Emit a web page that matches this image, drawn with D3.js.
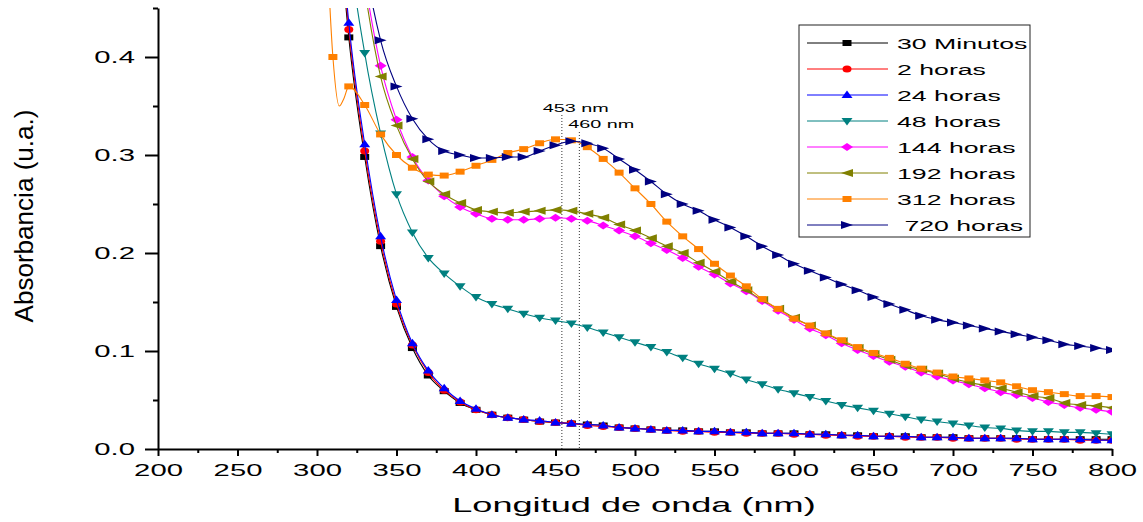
<!DOCTYPE html>
<html>
<head>
<meta charset="utf-8">
<script src="https://cdn.jsdelivr.net/npm/d3@7"></script>
<style>
  body { margin: 0; background: #fff; }
  text { font-family: "Liberation Sans", Arial, sans-serif; fill: #000; }
</style>
</head>
<body>
<script>
// wavelengths (nm) where the markers sit
const wavelengths = [310, 320, 330, 340, 350, 360, 370, 380, 390, 400,
  410, 420, 430, 440, 450, 460, 470, 480, 490, 500,
  510, 520, 530, 540, 550, 560, 570, 580, 590, 600,
  610, 620, 630, 640, 650, 660, 670, 680, 690, 700,
  710, 720, 730, 740, 750, 760, 770, 780, 790, 800];

const min30 = [0.62, 0.420, 0.298, 0.207, 0.145, 0.103, 0.075, 0.059, 0.047, 0.040,
  0.035, 0.032, 0.030, 0.028, 0.027, 0.026, 0.025, 0.024, 0.022, 0.021,
  0.020, 0.019, 0.019, 0.018, 0.018, 0.017, 0.017, 0.016, 0.016, 0.016,
  0.015, 0.015, 0.014, 0.014, 0.013, 0.013, 0.013, 0.012, 0.012, 0.012,
  0.011, 0.011, 0.011, 0.011, 0.010, 0.010, 0.010, 0.010, 0.010, 0.010];
const h2 = [0.63, 0.428, 0.304, 0.212, 0.148, 0.106, 0.078, 0.060, 0.048, 0.040,
  0.035, 0.032, 0.030, 0.028, 0.027, 0.026, 0.024, 0.023, 0.022, 0.021,
  0.020, 0.019, 0.018, 0.018, 0.017, 0.017, 0.016, 0.016, 0.016, 0.015,
  0.015, 0.014, 0.014, 0.013, 0.013, 0.013, 0.012, 0.012, 0.012, 0.011,
  0.011, 0.011, 0.011, 0.010, 0.010, 0.010, 0.010, 0.009, 0.009, 0.009];
const h24 = [0.64, 0.435, 0.311, 0.217, 0.152, 0.108, 0.080, 0.062, 0.049, 0.041,
  0.035, 0.032, 0.030, 0.029, 0.027, 0.026, 0.025, 0.024, 0.022, 0.021,
  0.020, 0.019, 0.019, 0.018, 0.018, 0.017, 0.017, 0.016, 0.016, 0.016,
  0.015, 0.015, 0.014, 0.014, 0.013, 0.013, 0.013, 0.012, 0.012, 0.012,
  0.011, 0.011, 0.011, 0.011, 0.010, 0.010, 0.010, 0.010, 0.009, 0.009];
const h48 = [0.75, 0.52, 0.404, 0.322, 0.260, 0.221, 0.195, 0.179, 0.166, 0.155,
  0.148, 0.143, 0.138, 0.134, 0.131, 0.128, 0.124, 0.119, 0.114, 0.109,
  0.104, 0.099, 0.093, 0.087, 0.082, 0.077, 0.071, 0.066, 0.061, 0.057,
  0.053, 0.049, 0.045, 0.042, 0.039, 0.036, 0.033, 0.030, 0.028, 0.026,
  0.024, 0.022, 0.021, 0.019, 0.018, 0.018, 0.017, 0.017, 0.016, 0.015];
const h144 = [0.75, 0.60, 0.48, 0.391, 0.336, 0.298, 0.274, 0.258, 0.247, 0.240,
  0.235, 0.234, 0.234, 0.235, 0.236, 0.235, 0.233, 0.228, 0.223, 0.217,
  0.210, 0.203, 0.195, 0.186, 0.178, 0.169, 0.161, 0.151, 0.141, 0.132,
  0.123, 0.116, 0.108, 0.101, 0.095, 0.089, 0.084, 0.078, 0.074, 0.070,
  0.066, 0.062, 0.058, 0.055, 0.052, 0.048, 0.045, 0.042, 0.040, 0.038];
const h192 = [0.75, 0.60, 0.47, 0.380, 0.330, 0.296, 0.273, 0.260, 0.251, 0.244,
  0.242, 0.241, 0.242, 0.243, 0.244, 0.243, 0.240, 0.236, 0.229, 0.223,
  0.215, 0.207, 0.200, 0.190, 0.181, 0.171, 0.162, 0.152, 0.143, 0.134,
  0.126, 0.118, 0.110, 0.103, 0.097, 0.091, 0.085, 0.081, 0.077, 0.072,
  0.068, 0.065, 0.062, 0.058, 0.054, 0.052, 0.047, 0.045, 0.044, 0.042];
const h312 = [0.400, 0.370, 0.351, 0.321, 0.300, 0.287, 0.280, 0.279, 0.283, 0.289,
  0.295, 0.302, 0.306, 0.312, 0.316, 0.315, 0.308, 0.296, 0.282, 0.266,
  0.250, 0.232, 0.217, 0.204, 0.189, 0.177, 0.166, 0.153, 0.143, 0.133,
  0.126, 0.118, 0.111, 0.104, 0.098, 0.093, 0.087, 0.082, 0.078, 0.074,
  0.072, 0.070, 0.068, 0.064, 0.060, 0.058, 0.056, 0.054, 0.054, 0.053];
// extra points of the 312 h line between the markers (the dip near 315 nm)
const h312Extra = [[305, 0.56], [314, 0.350], [317, 0.358]];
const h720 = [0.85, 0.65, 0.50, 0.417, 0.370, 0.337, 0.316, 0.304, 0.300, 0.297,
  0.297, 0.298, 0.298, 0.304, 0.310, 0.314, 0.312, 0.307, 0.296, 0.285,
  0.273, 0.260, 0.250, 0.243, 0.234, 0.226, 0.217, 0.207, 0.198, 0.189,
  0.182, 0.175, 0.168, 0.162, 0.155, 0.148, 0.142, 0.136, 0.132, 0.129,
  0.126, 0.123, 0.120, 0.117, 0.114, 0.111, 0.107, 0.105, 0.103, 0.101];

const labels = ['30 Minutos', '2 horas', '24 horas', '48 horas', '144 horas', '192 horas', '312 horas', ' 720 horas'];
const colors = ['#000000', '#ff0000', '#0000ff', '#008080', '#ff00ff', '#808000', '#ff8000', '#000080'];
const shapes = ['square', 'circle', 'up', 'down', 'diamond', 'left', 'square', 'right'];

const xTicks = [200, 250, 300, 350, 400, 450, 500, 550, 600, 650, 700, 750, 800];
const xMinor = [225, 275, 325, 375, 425, 475, 525, 575, 625, 675, 725, 775];
const yTicks = [0.0, 0.1, 0.2, 0.3, 0.4];
const yMinor = [0.05, 0.15, 0.25, 0.35, 0.45];
const peaks = [{ nm: 454, label: '453 nm' }, { nm: 465, label: '460 nm' }];

const width = 1143, height = 522;
const SX = 1.72; // the whole figure looks stretched sideways

const svg = d3.select('body').append('svg')
  .attr('width', width)
  .attr('height', height);

const x = d3.scaleLinear().domain([200, 800]).range([158, 1112]);
const y = d3.scaleLinear().domain([0, 0.45]).range([449, 8]);

svg.append('defs').append('clipPath').attr('id', 'plot')
  .append('rect')
  .attr('x', x(200)).attr('y', y(0.45))
  .attr('width', x(800) - x(200)).attr('height', y(0) - y(0.45));

function stretch(sel) {
  sel.each(function () {
    const w = this.getComputedTextLength();
    d3.select(this).attr('textLength', w * SX).attr('lengthAdjust', 'spacingAndGlyphs');
  });
}

const markerPath = {
  square: 'M-4.5,-3H4.5V3H-4.5Z',
  circle: 'M-4.5,0A4.5,3.5 0 1,0 4.5,0A4.5,3.5 0 1,0 -4.5,0Z',
  up: 'M0,-4.5L5.5,3L-5.5,3Z',
  down: 'M0,4.5L5.5,-3L-5.5,-3Z',
  diamond: 'M0,-4L6,0L0,4L-6,0Z',
  left: 'M-6,0L6,-4L6,4Z',
  right: 'M6,0L-6,-4L-6,4Z'
};

const seriesValues = [min30, h2, h24, h48, h144, h192, h312, h720];
const series = seriesValues.map((vals, i) => {
  const pts = wavelengths.map((w, j) => [w, vals[j]]);
  let linePts = pts;
  if (i === 6) linePts = pts.concat(h312Extra).sort((a, b) => a[0] - b[0]);
  return { label: labels[i], color: colors[i], shape: shapes[i], pts, linePts };
});

// annotation lines
const ann = svg.append('g');
ann.selectAll('line').data(peaks).join('line')
  .attr('x1', d => x(d.nm)).attr('x2', d => x(d.nm))
  .attr('y1', (d, i) => i === 0 ? 115 : 132).attr('y2', y(0))
  .attr('stroke', '#333').attr('stroke-width', 1).attr('stroke-dasharray', '1,2');
ann.selectAll('text').data(peaks).join('text')
  .attr('x', (d, i) => x(d.nm) - (i === 0 ? 19 : 11))
  .attr('y', (d, i) => i === 0 ? 112 : 128)
  .attr('font-size', 11.5)
  .text(d => d.label)
  .call(stretch);

const line = d3.line()
  .x(d => x(d[0])).y(d => y(d[1]))
  .curve(d3.curveMonotoneX);

const plot = svg.append('g').attr('clip-path', 'url(#plot)');
series.forEach(s => {
  const g = plot.append('g');
  g.append('path')
    .attr('d', line(s.linePts))
    .attr('fill', 'none')
    .attr('stroke', s.color)
    .attr('stroke-width', 1.1);
  g.selectAll('path.m').data(s.pts).join('path')
    .attr('class', 'm')
    .attr('transform', d => `translate(${x(d[0])},${y(d[1])})`)
    .attr('d', markerPath[s.shape])
    .attr('fill', s.color);
});

// axes
const xAxis = svg.append('g').attr('transform', `translate(0,${y(0)})`)
  .call(d3.axisBottom(x).tickValues(xTicks).tickSize(7).tickSizeOuter(0).tickFormat(d3.format('d')));
svg.append('g').attr('transform', `translate(0,${y(0)})`)
  .call(d3.axisBottom(x).tickValues(xMinor).tickSize(4).tickSizeOuter(0).tickFormat(''))
  .select('.domain').remove();
const yAxis = svg.append('g').attr('transform', `translate(${x(200)},0)`)
  .call(d3.axisLeft(y).tickValues(yTicks).tickSize(13).tickSizeOuter(0).tickFormat(d3.format('.1f')));
svg.append('g').attr('transform', `translate(${x(200)},0)`)
  .call(d3.axisLeft(y).tickValues(yMinor).tickSize(5).tickSizeOuter(0).tickFormat(''))
  .select('.domain').remove();

svg.selectAll('.domain').attr('stroke', '#000').attr('stroke-width', 2);
svg.selectAll('.tick line').attr('stroke', '#000').attr('stroke-width', 2);

xAxis.selectAll('.tick text')
  .attr('y', 15).attr('font-size', 17)
  .attr('font-family', '"Liberation Sans", Arial, sans-serif')
  .call(stretch);
yAxis.selectAll('.tick text')
  .attr('x', -23).attr('font-size', 17)
  .attr('font-family', '"Liberation Sans", Arial, sans-serif')
  .call(stretch);

// axis titles
svg.append('text')
  .attr('x', 634).attr('y', 512)
  .attr('text-anchor', 'middle')
  .attr('font-size', 21)
  .text('Longitud de onda (nm)')
  .call(stretch);

svg.append('text')
  .attr('transform', 'translate(33,216) rotate(-90)')
  .attr('text-anchor', 'middle')
  .attr('font-size', 26)
  .attr('textLength', 213)
  .attr('lengthAdjust', 'spacingAndGlyphs')
  .text('Absorbancia (u.a.)');

// legend
const legend = svg.append('g');
legend.append('rect')
  .attr('x', 799).attr('y', 25).attr('width', 231).attr('height', 212)
  .attr('fill', '#fff').attr('stroke', '#222').attr('stroke-width', 1);
const items = legend.selectAll('g.item').data(series).join('g')
  .attr('class', 'item')
  .attr('transform', (d, i) => `translate(0,${43 + i * 26})`);
items.append('line')
  .attr('x1', 807).attr('x2', 888)
  .attr('stroke', d => d.color).attr('stroke-width', 1);
items.append('path')
  .attr('transform', 'translate(847,0)')
  .attr('d', d => markerPath[d.shape])
  .attr('fill', d => d.color);
items.append('text')
  .attr('x', 897).attr('y', 5.5)
  .attr('font-size', 15.5)
  .style('white-space', 'pre')
  .text(d => d.label)
  .call(stretch);
</script>
</body>
</html>
